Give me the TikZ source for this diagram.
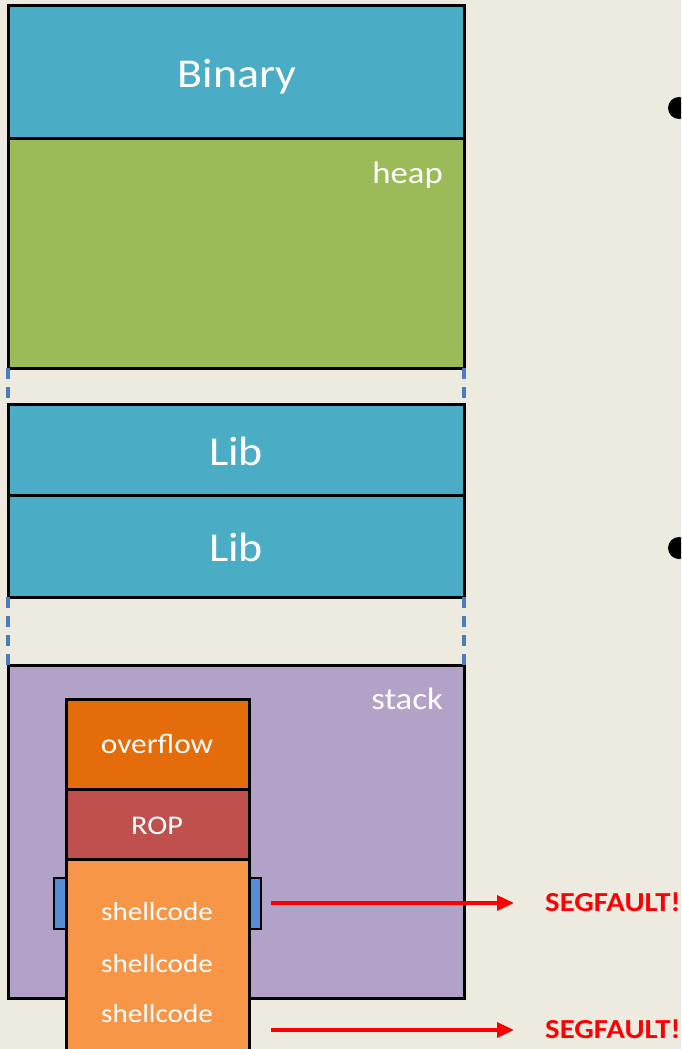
\documentclass[tikz,border=0pt]{standalone}
\usepackage{fontspec}
\setmainfont{Carlito}[FakeStretch=1.12]
\usetikzlibrary{arrows.meta}
\definecolor{paper}{HTML}{EDEBE0}
\definecolor{segblue}{HTML}{4BACC6}
\definecolor{heapgreen}{HTML}{9BBB59}
\definecolor{stackviolet}{HTML}{B2A2C7}
\definecolor{ovforange}{HTML}{E46C0A}
\definecolor{ropred}{HTML}{C0504D}
\definecolor{shellorange}{HTML}{F79646}
\definecolor{tabblue}{HTML}{558ED5}
\definecolor{gapblue}{HTML}{4A7EC0}
\definecolor{alarm}{HTML}{FF0000}
\tikzset{
  region/.style={draw=black, line width=3pt, anchor=north west, inner sep=0pt, outer sep=0pt},
  gapline/.style={draw=gapblue, line width=3.4pt, dash pattern=on 11pt off 8pt},
  boxtext/.style={text=white, inner sep=0pt},
  bigtext/.style={boxtext, font=\fontsize{41}{41}\selectfont, anchor=base},
  cornertext/.style={boxtext, font=\fontsize{31}{31}\selectfont, anchor=base east},
  smalltext/.style={boxtext, font=\fontsize{26}{26}\selectfont, anchor=base},
  segtext/.style={text=alarm, inner sep=0pt, anchor=base west, font=\bfseries\fontsize{27.5}{27.5}\selectfont},
  fault/.style={draw=alarm, line width=3.4pt, -{Triangle[length=17pt,width=15pt]}},
  bullet/.style={circle, fill=black, minimum size=22pt, inner sep=0pt}
}
\begin{document}
\begin{tikzpicture}[x=1pt, y=-1pt]
  \useasboundingbox (0,0) rectangle (681,1049);
  \clip (0,0) rectangle (681,1049);
  \fill[paper] (0,0) rectangle (681,1049);

  % address space regions
  \node[region, fill=segblue, minimum width=456pt, minimum height=132pt] (binary) at (8,6) {};
  \node[region, fill=heapgreen, minimum width=456pt, minimum height=230pt] (heap) at (8,138) {};
  \node[region, fill=segblue, minimum width=456pt, minimum height=91pt] (lib1) at (8,404) {};
  \node[region, fill=segblue, minimum width=456pt, minimum height=102pt] (lib2) at (8,495) {};
  \node[region, fill=stackviolet, minimum width=456pt, minimum height=333pt] (stack) at (8,665) {};

  % unmapped gaps
  \draw[gapline] (heap.south west) -- (lib1.north west);
  \draw[gapline] (heap.south east) -- (lib1.north east);
  \draw[gapline] (lib2.south west) -- (stack.north west);
  \draw[gapline] (lib2.south east) -- (stack.north east);

  % region labels
  \node[bigtext] (binarytext) at (237,87) {Binary};
  \node[bigtext] (lib1text) at (236,465) {Lib};
  \node[bigtext] (lib2text) at (236,561) {Lib};
  \node[cornertext] (heaptext) at (443,183) {heap};
  \node[cornertext] (stacktext) at (443,709) {stack};

  % payload on the stack
  \node[region, fill=tabblue, line width=2.2pt, minimum width=13pt, minimum height=51pt] (tabL) at (54,878) {};
  \node[region, fill=tabblue, line width=2.2pt, minimum width=13pt, minimum height=51pt] (tabR) at (248,878) {};
  \node[region, fill=ovforange, minimum width=183pt, minimum height=90pt] (overflow) at (66,699) {};
  \node[region, fill=ropred, minimum width=183pt, minimum height=70pt] (rop) at (66,789) {};
  \node[region, fill=shellorange, minimum width=183pt, minimum height=210pt] (shellcode) at (66,859) {};

  \node[smalltext, font=\fontsize{28}{28}\selectfont] (ovftext) at (157,753) {overflow};
  \node[smalltext, font=\fontsize{27}{27}\selectfont] (roptext) at (157,834) {ROP};
  \node[smalltext] (sc1) at (157,920) {shellcode};
  \node[smalltext] (sc2) at (157,972) {shellcode};
  \node[smalltext] (sc3) at (157,1022) {shellcode};

  % crashes
  \node[segtext] (seg1) at (545,911) {SEGFAULT!};
  \node[segtext] (seg2) at (545,1038) {SEGFAULT!};
  \coordinate (a1) at (271,903);
  \coordinate (a2) at (271,1030);
  \draw[fault, shorten >=31pt] (a1) -- (a1 -| seg1.west);
  \draw[fault, shorten >=31pt] (a2) -- (a2 -| seg2.west);

  % bullet marks at the right edge
  \node[bullet] (b1) at (679,108) {};
  \node[bullet] (b2) at (679,548) {};
\end{tikzpicture}
\end{document}
